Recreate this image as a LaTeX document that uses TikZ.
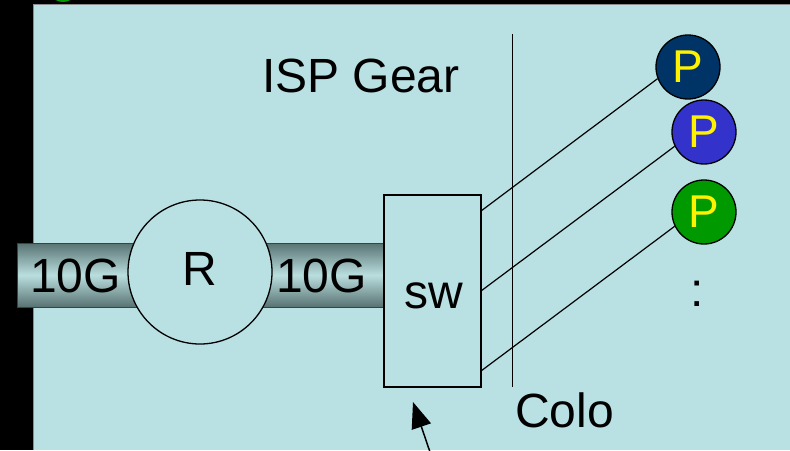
\documentclass[tikz,border=0pt]{standalone}
\usepackage{fontspec}
\setmainfont{Liberation Sans}
\usetikzlibrary{arrows.meta}
\definecolor{bgblue}{RGB}{185,224,227}
\definecolor{cabdark}{RGB}{88,114,114}
\definecolor{cablight}{RGB}{186,222,222}
\definecolor{pnavy}{RGB}{0,51,102}
\definecolor{pblue}{RGB}{51,51,204}
\definecolor{pgreen}{RGB}{0,153,0}
\begin{document}
\begin{tikzpicture}[x=1pt,y=-1pt,
  bigtext/.style={font=\fontsize{48}{50}\selectfont, inner sep=0pt},
  cable/.style={draw=black!75, line width=0.8pt, top color=cabdark, bottom color=cabdark, middle color=cablight},
  pnode/.style={circle, draw=black, line width=1.3pt, minimum size=64pt, inner sep=0pt, text=yellow, font=\fontsize{46}{48}\selectfont},
  thin line/.style={line width=1.2pt}]
\useasboundingbox (0,0) rectangle (790,450);
\fill[black] (0,0) rectangle (790,450);
\begin{scope}
\clip (0,0) rectangle (790,450);
\fill[green!60!black] (63,-3) ellipse (9pt and 5pt);
\end{scope}
\fill[bgblue] (33,4) rectangle (790,450);
\draw[black!45, line width=0.6pt] (33,450) -- (33,4) -- (790,4);
% cables
\draw[cable] (17,243) rectangle (200,307);
\draw[cable] (200,243) rectangle (384,307);
% router
\node[circle, draw=black, line width=1.3pt, fill=bgblue, minimum size=144pt, inner sep=0pt] (r) at (200,272) {};
\node[bigtext, anchor=base] (rl) at (200,285) {R};
\node[bigtext, anchor=base west] (g1) at (30,292) {10G};
\node[bigtext, anchor=base west] (g2) at (276,292) {10G};
% switch
\node[draw=black, line width=1.3pt, fill=bgblue, minimum width=97pt, minimum height=192pt, inner sep=0pt] (sw) at (432.5,291) {};
\node[bigtext, anchor=base] (swl) at (434,308) {sw};
% colo line
\coordinate (ct) at (512.5,34);
\coordinate (cb) at (512.5,387);
\draw[line width=1.5pt] (ct) -- (cb);
% texts
\node[bigtext, anchor=base west] (isp) at (262,92) {ISP Gear};
\node[bigtext, anchor=base west] (colo) at (515,427) {Colo};
\node[bigtext, anchor=base] (dots) at (697,306) {:};
% P nodes
\node[pnode, fill=pnavy] (p1) at (688,67) {P};
\node[pnode, fill=pblue] (p2) at (704,132) {P};
\node[pnode, fill=pgreen] (p3) at (704,212) {P};
% links
\coordinate (s1) at (481,211);
\coordinate (s2) at (481,291);
\coordinate (s3) at (481,371);
\draw[thin line] (s1) -- (p1.201);
\draw[thin line] (s2) -- (p2.206);
\draw[thin line] (s3) -- (p3.206);
% arrow
\coordinate (af) at (431,455);
\coordinate (at) at (413,402);
\draw[line width=1.5pt, -{Triangle[length=26pt,width=20pt]}] (af) -- (at);
\end{tikzpicture}
\end{document}
